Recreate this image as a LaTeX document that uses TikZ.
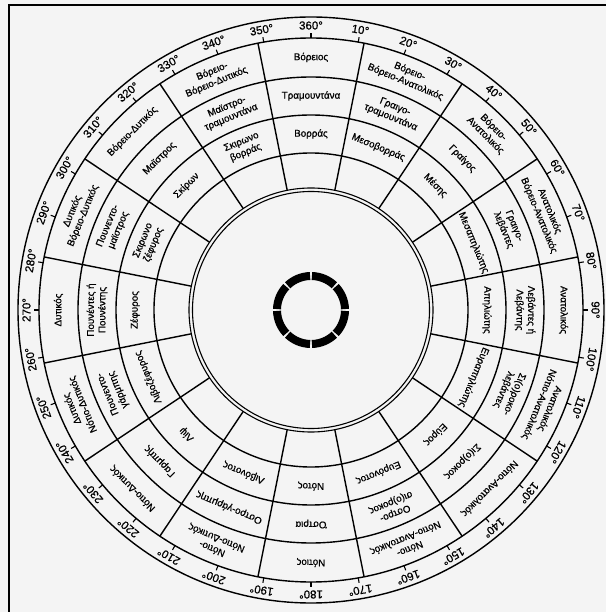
\documentclass[tikz,border=0pt]{standalone}
\usepackage{fontspec}
\setmainfont{Liberation Sans}[FakeBold=0.8]
\definecolor{bg}{HTML}{F4F4F4}
\begin{document}
\begin{tikzpicture}[x=1pt,y=1pt,
  ring/.style={line width=1.4pt},
  thin/.style={line width=1.1pt},
  deglab/.style={font=\fontsize{11.5}{13}\selectfont, inner sep=0pt},
  cell/.style={font=\fontsize{9.8}{11.5}\selectfont, align=center, inner sep=0pt}]
\fill[bg] (-311,-302) rectangle (295,310);
\useasboundingbox (-311,-302) rectangle (295,310);
% frame
\draw[line width=2.2pt] (-302,-302) -- (-302,305) -- (295,305);
% circles
\draw[ring] (0,0) circle (293);
\draw[ring] (0,0) circle (272);
\draw[ring] (0,0) circle (233);
\draw[ring] (0,0) circle (195);
\draw[ring] (0,0) circle (157);
\draw[thin] (0,0) circle (122);
\draw[thin] (0,0) circle (118.5);
% radial boundaries
\foreach \k in {0,...,15}
  \draw[ring] (78.75-22.5*\k:122) -- (78.75-22.5*\k:272);
% ticks and degree labels
\foreach \d in {10,20,...,360}{
  \draw[thin] (90-\d:272) -- (90-\d:277);
  \node[deglab, rotate=-\d] (deg\d) at (90-\d:284.5) {\d°};
}
% outer text ring
\foreach \k/\t in {0/Βόρειος, 1/{Βόρειο-\\Βόρειο-Ανατολικός}, 2/{Βόρειο-\\Ανατολικός},
  3/{Ανατολικός\\Βόρειο-Ανατολικός}, 4/Ανατολικός, 5/{Ανατολικός\\Νότιο-Ανατολικός},
  6/Νότιο-Ανατολικός, 7/{Νότιο-\\Νότιο-Ανατολικός}, 8/Νότιος, 9/{Νότιο-\\Νότιο-Δυτικός},
  10/Νότιο-Δυτικός, 11/{Δυτικός\\Νότιο-Δυτικός}, 12/Δυτικός, 13/{Δυτικός\\Βόρειο-Δυτικός},
  14/Βόρειο-Δυτικός, 15/{Βόρειο-\\Βόρειο-Δυτικός}}
  \node[cell, rotate=-22.5*\k] (a\k) at (90-22.5*\k:252.5) {\t};
% middle text ring
\foreach \k/\t in {0/Τραμουντάνα, 1/{Γραιγο-\\τραμουντάνα}, 2/Γραίγος, 3/{Γραιγο-\\λεβάντες},
  4/{Λεβάντες ή\\Λεβάντης}, 5/{Σι(ο)ροκο-\\λεβάντες}, 6/Σι(ο)ροκος, 7/{Οστρο-\\σι(ο)ροκος},
  8/Όστρια, 9/Οστρο-γάρμπης, 10/Γαρμπής, 11/{Πουνεντο-\\γάρμπης},
  12/{Πουνέντες ή\\Πουνέντης}, 13/{Πουνεντο-\\μαϊστρος}, 14/Μαϊστρος, 15/{Μαϊστρο-\\τραμουντάνα}}
  \node[cell, rotate=-22.5*\k] (b\k) at (90-22.5*\k:214) {\t};
% inner text ring
\foreach \k/\t in {0/Βορράς, 1/Μεσοβορράς, 2/Μέσης, 3/Μεσαπηλιώτης, 4/Απηλιώτης,
  5/Ευραπηλιώτης, 6/Εύρος, 7/Ευρόνοτος, 8/Νότος, 9/Λιβόνοτος, 10/Λίψ, 11/Λιβοζέφυρος,
  12/Ζέφυρος, 13/{Σκιρωνο\\ζέφυρος}, 14/Σκίρων, 15/{Σκιρωνο\\βορράς}}
  \node[cell, rotate=-22.5*\k] (c\k) at (90-22.5*\k:176) {\t};
% central segmented ring
\foreach \a in {0,45,...,315}
  \draw[line width=8pt] (\a+1.6:34) arc (\a+1.6:\a+43.4:34);
\end{tikzpicture}
\end{document}
